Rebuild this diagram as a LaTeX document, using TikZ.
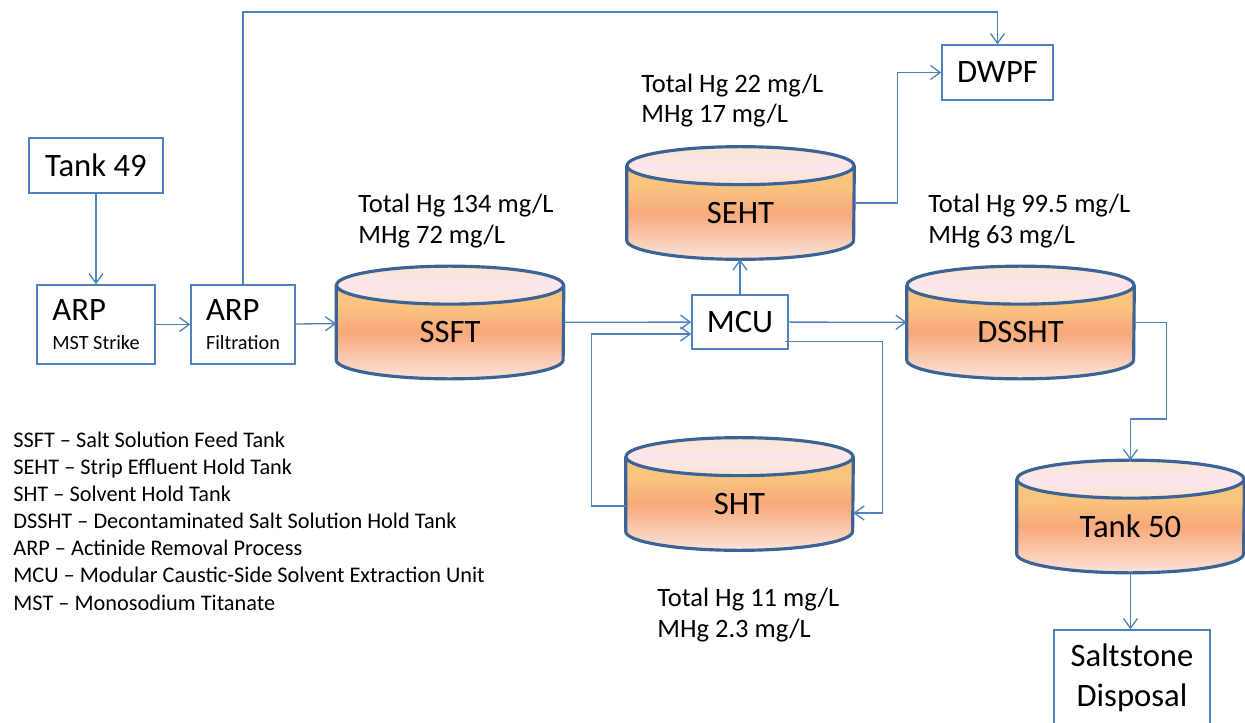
\documentclass[tikz,border=0pt]{standalone}
\usepackage{fontspec}
\setmainfont{Carlito}
\usetikzlibrary{positioning, arrows.meta}

\definecolor{lineblue}{HTML}{4F81BD}
\definecolor{tankedge}{HTML}{3B6395}
\definecolor{tkorange}{HTML}{F9C47E}
\definecolor{tksalmon}{HTML}{F7A97A}
\definecolor{tkpink}{HTML}{FCE3DA}
\definecolor{lidpeach}{HTML}{FBE5D1}
\definecolor{lidpink}{HTML}{FCE6EE}

\pgfdeclareverticalshading{tankbody}{100bp}{color(0bp)=(tkpink); color(25bp)=(tkpink); color(50bp)=(tksalmon); color(64bp)=(tkorange); color(75bp)=(tkorange); color(100bp)=(tkorange)}
\pgfdeclareverticalshading{tanklid}{100bp}{color(0bp)=(lidpeach); color(25bp)=(lidpeach); color(50bp)=(lidpink); color(75bp)=(lidpeach); color(100bp)=(lidpeach)}

\tikzset{
    box/.style={draw=lineblue, line width=0.85pt, inner sep=0pt,
        font=\fontsize{18.6}{22.7}\selectfont},
    arpbox/.style={box, align=left, font=\fontsize{18.6}{16.5}\selectfont},
    tankbase/.style={minimum width=4.54cm, minimum height=2.24cm, inner sep=0pt},
    tankline/.style={draw=tankedge, line width=1.8pt},
    tanktext/.style={font=\fontsize{18.6}{22}\selectfont},
    hgtext/.style={anchor=base west, inner sep=0pt, align=left,
        font=\fontsize{15.1}{17.6}\selectfont},
    legendtext/.style={anchor=base west, inner sep=0pt, align=left,
        font=\fontsize{12.7}{15.4}\selectfont},
    pipe/.style={draw=lineblue, line width=0.75pt},
    flow/.style={pipe, -{Straight Barb[length=5.5pt, width=8pt]}}
}

% tank: name, x, y, label
\newcommand{\drawtank}[4]{
    \node[tankbase] (#1) at (#2,#3) {};
    \shade[shading=tankbody] ([yshift=-0.38cm]#1.north west)
        -- ([yshift=0.38cm]#1.south west)
        arc[start angle=180, end angle=360, x radius=2.27cm, y radius=0.38cm]
        -- ([yshift=-0.38cm]#1.north east) -- cycle;
    \draw[tankline] ([yshift=-0.38cm]#1.north west)
        -- ([yshift=0.38cm]#1.south west)
        arc[start angle=180, end angle=360, x radius=2.27cm, y radius=0.38cm]
        -- ([yshift=-0.38cm]#1.north east);
    \shade[shading=tanklid] ([yshift=-0.38cm]#1.north)
        ellipse[x radius=2.27cm, y radius=0.38cm];
    \draw[tankline] ([yshift=-0.38cm]#1.north)
        ellipse[x radius=2.27cm, y radius=0.38cm];
    \node[tanktext] (#1-label) at ([yshift=-0.2cm]#1.center) {#4};
}

\begin{document}
\begin{tikzpicture}[x=0.02cm, y=-0.02cm]
    \useasboundingbox (0,0) rectangle (1245,723);

    \node[
        box,
        minimum width=2.68cm,
        minimum height=1.1cm] (T49) at (96,165.5) {Tank 49};
    \node[
        arpbox,
        minimum width=2.36cm,
        minimum height=1.58cm] (ARPa) at (96,324.5)
        {ARP\\{\fontsize{11.5}{14}\selectfont MST Strike}};
    \node[
        arpbox,
        minimum width=2.08cm,
        minimum height=1.58cm] (ARPf) at (243,324.5)
        {ARP\\{\fontsize{11.5}{14}\selectfont Filtration}};
    \node[
        box,
        minimum width=2.22cm,
        minimum height=1.1cm] (DWPF) at (997.5,72.5) {DWPF};
    \node[
        box,
        minimum width=1.92cm,
        minimum height=1.08cm] (MCU) at (740,322) {MCU};
    \node[
        box,
        align=center,
        minimum width=3.12cm,
        minimum height=1.92cm] (SDisp) at (1132,678) {Saltstone\\Disposal};

    \drawtank{SSFT}{450}{322.5}{SSFT}
    \drawtank{SEHT}{740.5}{203}{SEHT}
    \drawtank{SHT}{739.5}{494}{SHT}
    \drawtank{DSSHT}{1020.5}{322.5}{DSSHT}
    \drawtank{T50}{1130.5}{516.5}{Tank 50}

    \node[hgtext] (hgSSFT) at (358,243) {Total Hg 134 mg/L\\MHg 72 mg/L};
    \node[hgtext] (hgSEHT) at (641,123) {Total Hg 22 mg/L\\MHg 17 mg/L};
    \node[hgtext] (hgDSSHT) at (928,243) {Total Hg 99.5 mg/L\\MHg 63 mg/L};
    \node[hgtext] (hgSHT) at (657,637) {Total Hg 11 mg/L\\MHg 2.3 mg/L};

    \node[legendtext] (legend) at (13,610) {SSFT – Salt Solution Feed Tank\\
        SEHT – Strip Effluent Hold Tank\\
        SHT – Solvent Hold Tank\\
        DSSHT – Decontaminated Salt Solution Hold Tank\\
        ARP – Actinide Removal Process\\
        MCU – Modular Caustic-Side Solvent Extraction Unit\\
        MST – Monosodium Titanate};

    \coordinate (bypass) at (243,12);

    \draw[flow] (T49) -- (ARPa);
    \draw[flow] (ARPa) -- (ARPf);
    \draw[flow] (ARPf) -- (SSFT);
    \draw[flow] (ARPf.north) -- (bypass) -| (DWPF.north);
    \draw[flow] (SSFT) -- (MCU);
    \draw[flow] (MCU.north) -- (MCU.north |- SEHT.south);
    \draw[flow] (SEHT.east) -- ++(43,0) |- (DWPF.west);
    \draw[flow] (MCU) -- (DSSHT);
    \draw[flow] ([yshift=-0.24cm]SHT.west) -- ++(-34,0)
        |- ([yshift=-0.24cm]MCU.west);
    \draw[flow] ([xshift=-0.08cm, yshift=0.16cm]MCU.south east) -- ++(98,0)
        |- ([yshift=-0.38cm]SHT.east);
    \draw[flow] (DSSHT.east) -- ++(32,0) -- ++(0,96.5) -| (T50.north);
    \draw[flow] (T50.south) -- (T50.south |- SDisp.north);
\end{tikzpicture}
\end{document}
